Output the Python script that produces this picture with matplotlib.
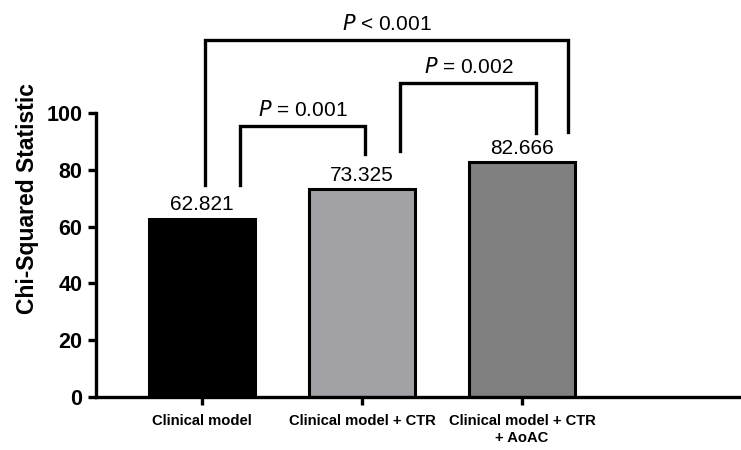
import numpy as np
import matplotlib
matplotlib.use("Agg")
import matplotlib.pyplot as plt

models = ["Clinical model", "Clinical model + CTR", "Clinical model + CTR\n+ AoAC"]
chi2 = [62.821, 73.325, 82.666]
bar_colors = ["#000000", "#a2a2a6", "#808080"]

# comparisons: (x left leg, x right leg, y top, y left end, y right end, label)
brackets = [
    (0.24, 1.02, 95.4, 74.6, 85.6, "0.001", "="),
    (1.24, 2.09, 110.6, 86.6, 93.0, "0.002", "="),
    (0.02, 2.29, 125.7, 74.6, 93.3, "0.001", "<"),
]

plt.rcParams['font.family'] = ['Liberation Sans', 'DejaVu Sans']

fig = plt.figure(figsize=(7.41, 4.5), dpi=100)
ax = fig.add_axes([0.1296, 0.1178, 0.8704, 0.8822])

x = np.arange(len(models))
ax.bar(x, chi2, width=0.66, color=bar_colors, edgecolor='black', linewidth=2.2, zorder=2)

for xi, v in zip(x, chi2):
    ax.text(xi, v + 1.5, "%.3f" % v, ha='center', va='bottom', fontsize=15)

for x1, x2, yt, y1, y2, p, op in brackets:
    ax.plot([x1, x1, x2, x2], [y1, yt, yt, y2], color='black', lw=2.4,
            solid_joinstyle='miter', clip_on=False)
    ax.text((x1 + x2) / 2, yt + 2.2, r"$\it{P}$ " + op + " " + p,
            ha='center', va='bottom', fontsize=15)

ax.set_xlim(-0.6625, 3.37)
ax.set_ylim(0, 139.8)
ax.set_yticks([0, 20, 40, 60, 80, 100])
ax.set_xticks(x)
ax.set_xticklabels(models, fontsize=10.6, fontweight='bold', linespacing=1.3)
for lab in ax.get_yticklabels():
    lab.set_fontsize(15.5)
    lab.set_fontweight('bold')
ax.set_ylabel("Chi-Squared Statistic", fontsize=16.5, fontweight='bold', labelpad=5)

ax.spines['top'].set_visible(False)
ax.spines['right'].set_visible(False)
ax.spines['left'].set_bounds(0, 100)
ax.spines['left'].set_linewidth(2.4)
ax.spines['bottom'].set_linewidth(2.4)
ax.tick_params(axis='both', width=2.4, length=6, pad=4)
ax.tick_params(axis='x', pad=6)

fig.savefig("out.png", dpi=100)
